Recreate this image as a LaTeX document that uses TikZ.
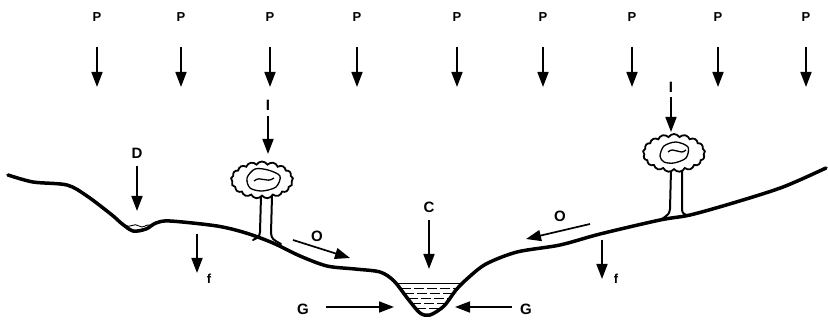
\documentclass[tikz,border=0pt]{standalone}
\usepackage{fontspec}
\setsansfont{Liberation Sans}
\usetikzlibrary{arrows.meta,shapes.symbols}
\tikzset{
    lbl/.style={font=\sffamily\bfseries\fontsize{15}{17}\selectfont, inner sep=0pt},
    rainlbl/.style={font=\sffamily\bfseries\fontsize{13}{15}\selectfont, inner sep=0pt},
    flow/.style={line width=1.7pt, -{Triangle[length=15pt,width=11pt]}},
    ground/.style={line width=3.5pt, line cap=round, line join=round},
    crown/.style={cloud, cloud puffs=17, cloud puff arc=120, draw, line width=1.8pt,
        fill=white, inner sep=0pt},
    trunk/.style={line width=2pt, line cap=round},
    water/.style={line width=0.9pt},
}

\begin{document}
\begin{tikzpicture}[x=1pt, y=-1pt]
\useasboundingbox (0,0) rectangle (828,323);

% rain over the whole slope
\foreach \x [count=\i] in {97,181,270,357,457,543,632,718,806} {
    \node[rainlbl] (P\i) at (\x,17) {P};
    \coordinate (P\i a) at (\x,47);
    \coordinate (P\i b) at (\x,87);
    \draw[flow] (P\i a) -- (P\i b);
}

% ground surface with pond, slopes and the channel
\draw[ground] plot [smooth, tension=0.5] coordinates {
    (8,175) (33,182) (67,185) (87,196) (112,215) (121,223) (133,231) (146,229)
    (156,223) (170,221) (217,226) (246,233) (273,243) (300,256) (327,266)
    (355,269) (380,272) (394,281) (408,299) (420,313) (430,315) (444,306)
    (456,290) (468,278) (486,264) (517,252) (560,245) (600,234) (660,220)
    (690,215) (733,203) (783,187) (826,168)};

% water in the channel
\draw[water] (396,283) -- (463,283);
\foreach \y/\a/\b in {288/401/459, 293/404/456, 298/408/452, 303/411/448, 308/416/442}
    \draw[water, dash pattern=on 10pt off 3pt] (\a,\y) -- (\b,\y);

% water in the depression
\draw[water] (125,225) .. controls (130,229) and (134,222) .. (139,226)
    .. controls (143,229) and (146,224) .. (150,225);

% left tree
\draw[trunk] (261,196) -- (260,232) .. controls (259,237) .. (253,240);
\draw[trunk] (272,196) -- (271,233) .. controls (272,239) .. (281,244);
\node[crown, minimum width=62pt, minimum height=37pt] (tree1) at (262,180) {};
\draw[water, line width=1.3pt] plot [smooth cycle] coordinates {
    (247,178) (255,169) (268,170) (280,176) (276,187) (262,191) (250,188)};
\draw[water, line width=1.3pt] (254,181) .. controls (261,175) and (266,184) .. (274,178);

% right tree
\draw[trunk] (671,170) -- (670,209) .. controls (669,214) .. (662,219);
\draw[trunk] (682,170) -- (682,210) .. controls (683,214) .. (690,216);
\node[crown, minimum width=62pt, minimum height=38pt] (tree2) at (674,153) {};
\draw[water, line width=1.3pt] plot [smooth cycle] coordinates {
    (660,156) (664,146) (676,142) (688,147) (686,158) (674,163) (664,162)};
\draw[water, line width=1.3pt] (668,152) .. controls (674,146) and (680,156) .. (686,150);

% interception
\node[lbl] (I1) at (268,105) {I};
\coordinate (I1a) at (268,116);
\coordinate (I1b) at (268,154);
\draw[flow] (I1a) -- (I1b);
\node[lbl] (I2) at (671,87) {I};
\coordinate (I2a) at (671,97);
\coordinate (I2b) at (671,132);
\draw[flow] (I2a) -- (I2b);

% depression storage
\node[lbl] (D) at (137,153) {D};
\coordinate (Da) at (137,166);
\coordinate (Db) at (137,211);
\draw[flow] (Da) -- (Db);

% infiltration
\coordinate (f1a) at (197,234);
\coordinate (f1b) at (197,273);
\draw[flow] (f1a) -- (f1b);
\node[rainlbl] (f1) at (209,279) {f};
\coordinate (f2a) at (602,240);
\coordinate (f2b) at (602,279);
\draw[flow] (f2a) -- (f2b);
\node[rainlbl] (f2) at (616,279) {f};

% overland flow
\node[lbl] (O1) at (317,236) {O};
\coordinate (O1a) at (293,240);
\coordinate (O1b) at (350,258);
\draw[flow] (O1a) -- (O1b);
\node[lbl] (O2) at (560,216) {O};
\coordinate (O2a) at (590,224);
\coordinate (O2b) at (526,239);
\draw[flow] (O2a) -- (O2b);

% channel precipitation
\node[lbl] (C) at (429,207) {C};
\coordinate (Ca) at (429,220);
\coordinate (Cb) at (429,269);
\draw[flow] (Ca) -- (Cb);

% groundwater flow
\node[lbl] (G1) at (303,309) {G};
\coordinate (G1a) at (326,307);
\coordinate (G1b) at (394,307);
\draw[flow] (G1a) -- (G1b);
\node[lbl] (G2) at (526,309) {G};
\coordinate (G2a) at (512,307);
\coordinate (G2b) at (455,307);
\draw[flow] (G2a) -- (G2b);
\end{tikzpicture}
\end{document}
